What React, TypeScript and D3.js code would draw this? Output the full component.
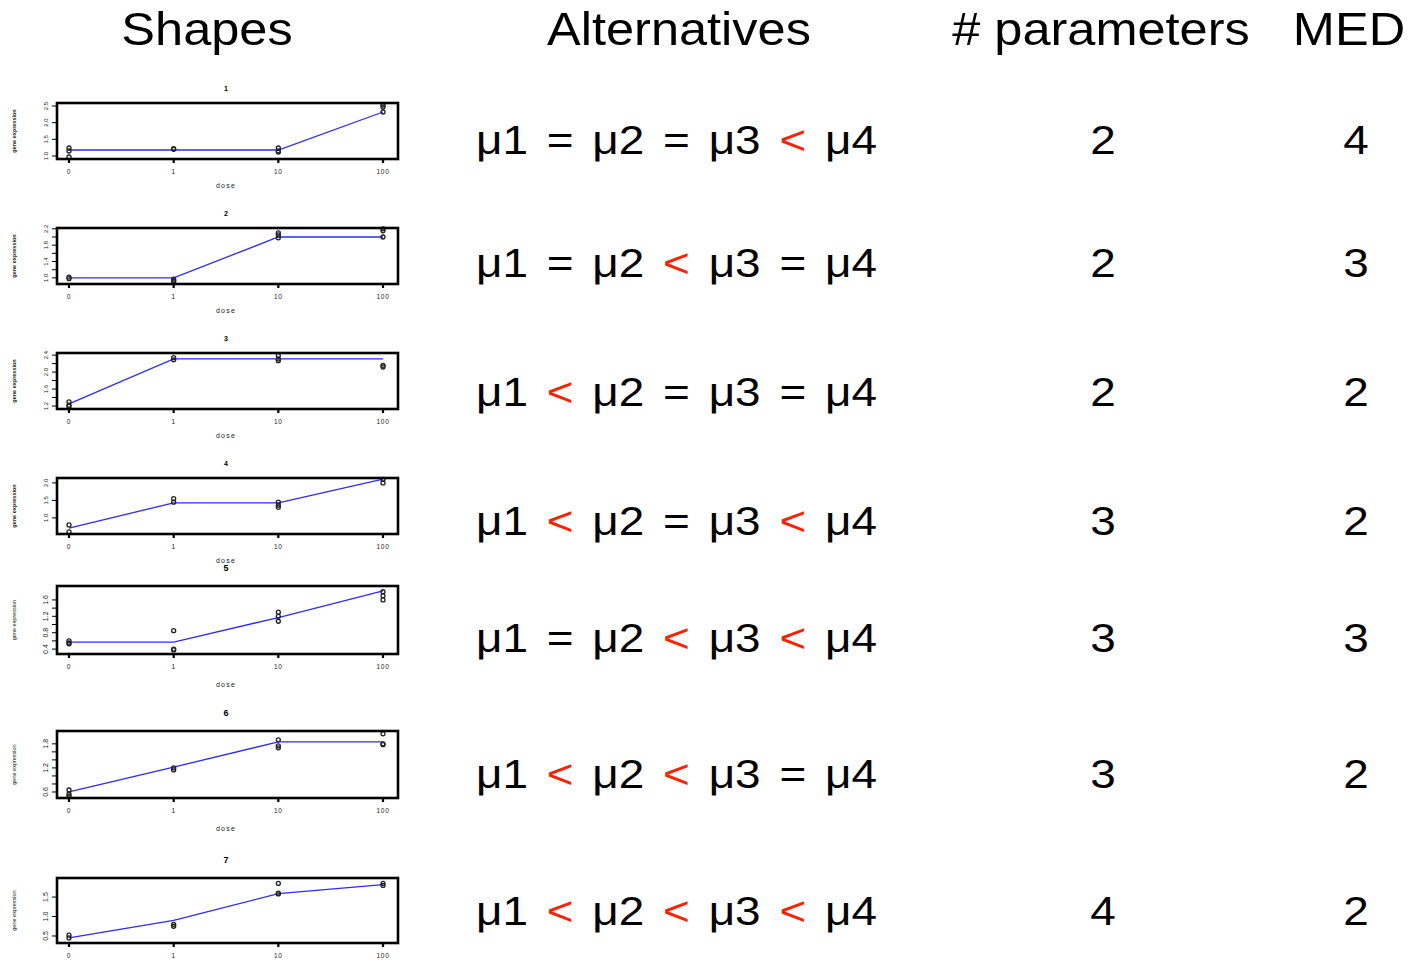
import React from "react";
import * as d3 from "d3";

const doses = ["0", "1", "10", "100"];
const shapeTitles = ["1", "2", "3", "4", "5", "6", "7"];
const headers = ["Shapes", "Alternatives", "# parameters", "MED"];

// group means at each dose, per shape
const means1 = [1.18, 1.18, 1.18, 2.32];
const means2 = [1.0, 1.0, 2.0, 2.0];
const means3 = [1.25, 2.31, 2.31, 2.31];
const means4 = [0.71, 1.43, 1.43, 2.11];
const means5 = [0.57, 0.57, 1.17, 1.82];
const means6 = [0.6, 1.22, 1.85, 1.85];
const means7 = [0.45, 0.9, 1.59, 1.82];

// observations [dose index, value]
const obs1 = [[0, 1.24], [0, 1.15], [0, 0.97], [1, 1.2], [1, 1.22], [2, 1.24], [2, 1.15], [2, 1.12], [3, 2.53], [3, 2.47], [3, 2.32]];
const obs2 = [[0, 1.02], [0, 0.98], [1, 0.97], [1, 0.93], [1, 0.91], [2, 2.05], [2, 2.1], [2, 1.98], [3, 2.2], [3, 2.15], [3, 2.0]];
const obs3 = [[0, 1.3], [0, 1.22], [0, 1.19], [1, 2.34], [1, 2.29], [2, 2.39], [2, 2.31], [2, 2.27], [3, 2.16], [3, 2.12]];
const obs4 = [[0, 0.8], [0, 0.6], [1, 1.55], [1, 1.45], [2, 1.45], [2, 1.36], [2, 1.3], [3, 2.1], [3, 2.0]];
const obs5 = [[0, 0.6], [0, 0.55], [0, 0.53], [1, 0.85], [1, 0.4], [1, 0.38], [2, 1.3], [2, 1.2], [2, 1.08], [3, 1.8], [3, 1.7], [3, 1.6]];
const obs6 = [[0, 0.65], [0, 0.55], [0, 0.5], [1, 1.2], [1, 1.15], [2, 1.9], [2, 1.75], [2, 1.7], [3, 2.05], [3, 1.8], [3, 1.78]];
const obs7 = [[0, 0.52], [0, 0.45], [1, 0.8], [1, 0.75], [2, 1.85], [2, 1.6], [2, 1.58], [3, 1.85], [3, 1.8]];

const yDomains = [[0.91, 2.59], [0.85, 2.22], [1.13, 2.45], [0.54, 2.14], [0.28, 1.94], [0.45, 2.12], [0.32, 1.99]];
const yTicks = [
  [1.0, 1.5, 2.0, 2.5],
  [1.0, 1.2, 1.4, 1.6, 1.8, 2.0, 2.2],
  [1.2, 1.4, 1.6, 1.8, 2.0, 2.2, 2.4],
  [1.0, 1.5, 2.0],
  [0.4, 0.6, 0.8, 1.0, 1.2, 1.4, 1.6],
  [0.6, 0.8, 1.0, 1.2, 1.4, 1.6, 1.8],
  [0.5, 1.0, 1.5],
];
const yTickLabels = [
  ["1.0", "1.5", "2.0", "2.5"],
  ["1.0", "", "1.4", "", "1.8", "", "2.2"],
  ["1.2", "", "1.6", "", "2.0", "", "2.4"],
  ["1.0", "1.5", "2.0"],
  ["0.4", "", "0.8", "", "1.2", "", "1.6"],
  ["0.6", "", "", "1.2", "", "", "1.8"],
  ["0.5", "1.0", "1.5"],
];

// alternatives: operators between mu1..mu4
const operators = [
  ["=", "=", "<"],
  ["=", "<", "="],
  ["<", "=", "="],
  ["<", "=", "<"],
  ["=", "<", "<"],
  ["<", "<", "="],
  ["<", "<", "<"],
];
const numParams = [2, 2, 2, 3, 3, 3, 4];
const medValues = [4, 3, 2, 2, 3, 2, 2];

const allMeans = [means1, means2, means3, means4, means5, means6, means7];
const allObs = [obs1, obs2, obs3, obs4, obs5, obs6, obs7];

// layout
const panelTops = [103, 228, 353, 478, 586, 731, 878];
const panelHeights = [56, 56, 56, 56, 68, 67, 65];
const rowBaselines = [154, 277, 406, 535, 652, 788, 925];
const BOX_L = 57;
const BOX_R = 398;
const FONT = "'Liberation Sans', Arial, Helvetica, sans-serif";

function Panel({ i }: { i: number }) {
  const top = panelTops[i];
  const h = panelHeights[i];
  const bottom = top + h;
  const x = d3.scalePoint<string>().domain(doses).range([69, 383]);
  const y = d3.scaleLinear().domain(yDomains[i]).range([bottom, top]);
  const line = d3
    .line<number>()
    .x((_, k) => x(doses[k]) as number)
    .y((v) => y(v));
  const midY = (top + bottom) / 2;
  const tall = i >= 4;
  return (
    <g>
      <text x={226} y={top - (tall ? 15 : 12)} fontSize={tall ? 9 : 7} textAnchor="middle" fontFamily={FONT} fontWeight="bold">
        {shapeTitles[i]}
      </text>
      <path d={line(allMeans[i]) || ""} fill="none" stroke="#2b2bff" strokeWidth={1.3} />
      {allObs[i].map((o, k) => (
        <circle key={k} cx={x(doses[o[0]]) as number} cy={y(o[1])} r={2} fill="none" stroke="#222" strokeWidth={1.3} />
      ))}
      <rect x={BOX_L} y={top} width={BOX_R - BOX_L} height={h} fill="none" stroke="#000" strokeWidth={2.6} />
      {yTicks[i].map((t, k) => (
        <g key={k}>
          <line x1={BOX_L} x2={BOX_L - 5} y1={y(t)} y2={y(t)} stroke="#000" strokeWidth={1} />
          {yTickLabels[i][k] && (
            <text
              transform={`translate(${BOX_L - 9},${y(t)}) rotate(-90)`}
              fontSize={tall ? 7 : 6}
              textAnchor="middle"
              fontFamily={FONT}
              fill="#222"
            >
              {yTickLabels[i][k]}
            </text>
          )}
        </g>
      ))}
      {doses.map((d) => (
        <g key={d}>
          <line x1={x(d) as number} x2={x(d) as number} y1={bottom} y2={bottom + 4} stroke="#000" strokeWidth={2.2} />
          <text x={x(d) as number} y={bottom + 15} fontSize={6.5} textAnchor="middle" fontFamily={FONT} fill="#222" letterSpacing={0.8}>
            {d}
          </text>
        </g>
      ))}
      {i < 6 && (
        <text x={226} y={bottom + (tall ? 33 : 29)} fontSize={7} textAnchor="middle" fontFamily={FONT} fill="#222" letterSpacing={1.2}>
          dose
        </text>
      )}
      <text
        transform={`translate(16,${midY}) rotate(-90)`}
        fontSize={tall ? 5.5 : 5.5}
        textAnchor="middle"
        fontFamily={FONT}
        fontWeight={tall ? "normal" : "bold"}
        fill="#222"
      >
        gene expression
      </text>
    </g>
  );
}

export default function App() {
  const headerX = [207, 679, 1101, 1349];
  const tokenX = d3.scalePoint<number>().domain([0, 1, 2, 3, 4, 5, 6]).range([502, 851]);
  const SX = 1.12;
  const tokenText = (k: number, s: string, color: string, i: number) => (
    <text
      key={k}
      transform={`translate(${tokenX(k)},${rowBaselines[i]}) scale(${SX},1)`}
      fontSize={41}
      textAnchor="middle"
      fontFamily={FONT}
      fill={color}
    >
      {s}
    </text>
  );
  return (
    <svg width={1416} height={963} style={{ position: "absolute", left: 0, top: 0, background: "#fff" }}>
      {headers.map((h, k) => (
        <text
          key={h}
          transform={`translate(${headerX[k]},45) scale(1.075,1)`}
          fontSize={47}
          textAnchor="middle"
          fontFamily={FONT}
          fill="#000"
        >
          {h}
        </text>
      ))}
      {shapeTitles.map((_, i) => (
        <Panel key={i} i={i} />
      ))}
      {operators.map((ops, i) => (
        <g key={i}>
          {tokenText(0, "μ1", "#000", i)}
          {tokenText(1, ops[0], ops[0] === "<" ? "#ff2200" : "#000", i)}
          {tokenText(2, "μ2", "#000", i)}
          {tokenText(3, ops[1], ops[1] === "<" ? "#ff2200" : "#000", i)}
          {tokenText(4, "μ3", "#000", i)}
          {tokenText(5, ops[2], ops[2] === "<" ? "#ff2200" : "#000", i)}
          {tokenText(6, "μ4", "#000", i)}
          <text transform={`translate(1103,${rowBaselines[i]}) scale(${SX},1)`} fontSize={41} textAnchor="middle" fontFamily={FONT} fill="#000">
            {numParams[i]}
          </text>
          <text transform={`translate(1356,${rowBaselines[i]}) scale(${SX},1)`} fontSize={41} textAnchor="middle" fontFamily={FONT} fill="#000">
            {medValues[i]}
          </text>
        </g>
      ))}
    </svg>
  );
}
